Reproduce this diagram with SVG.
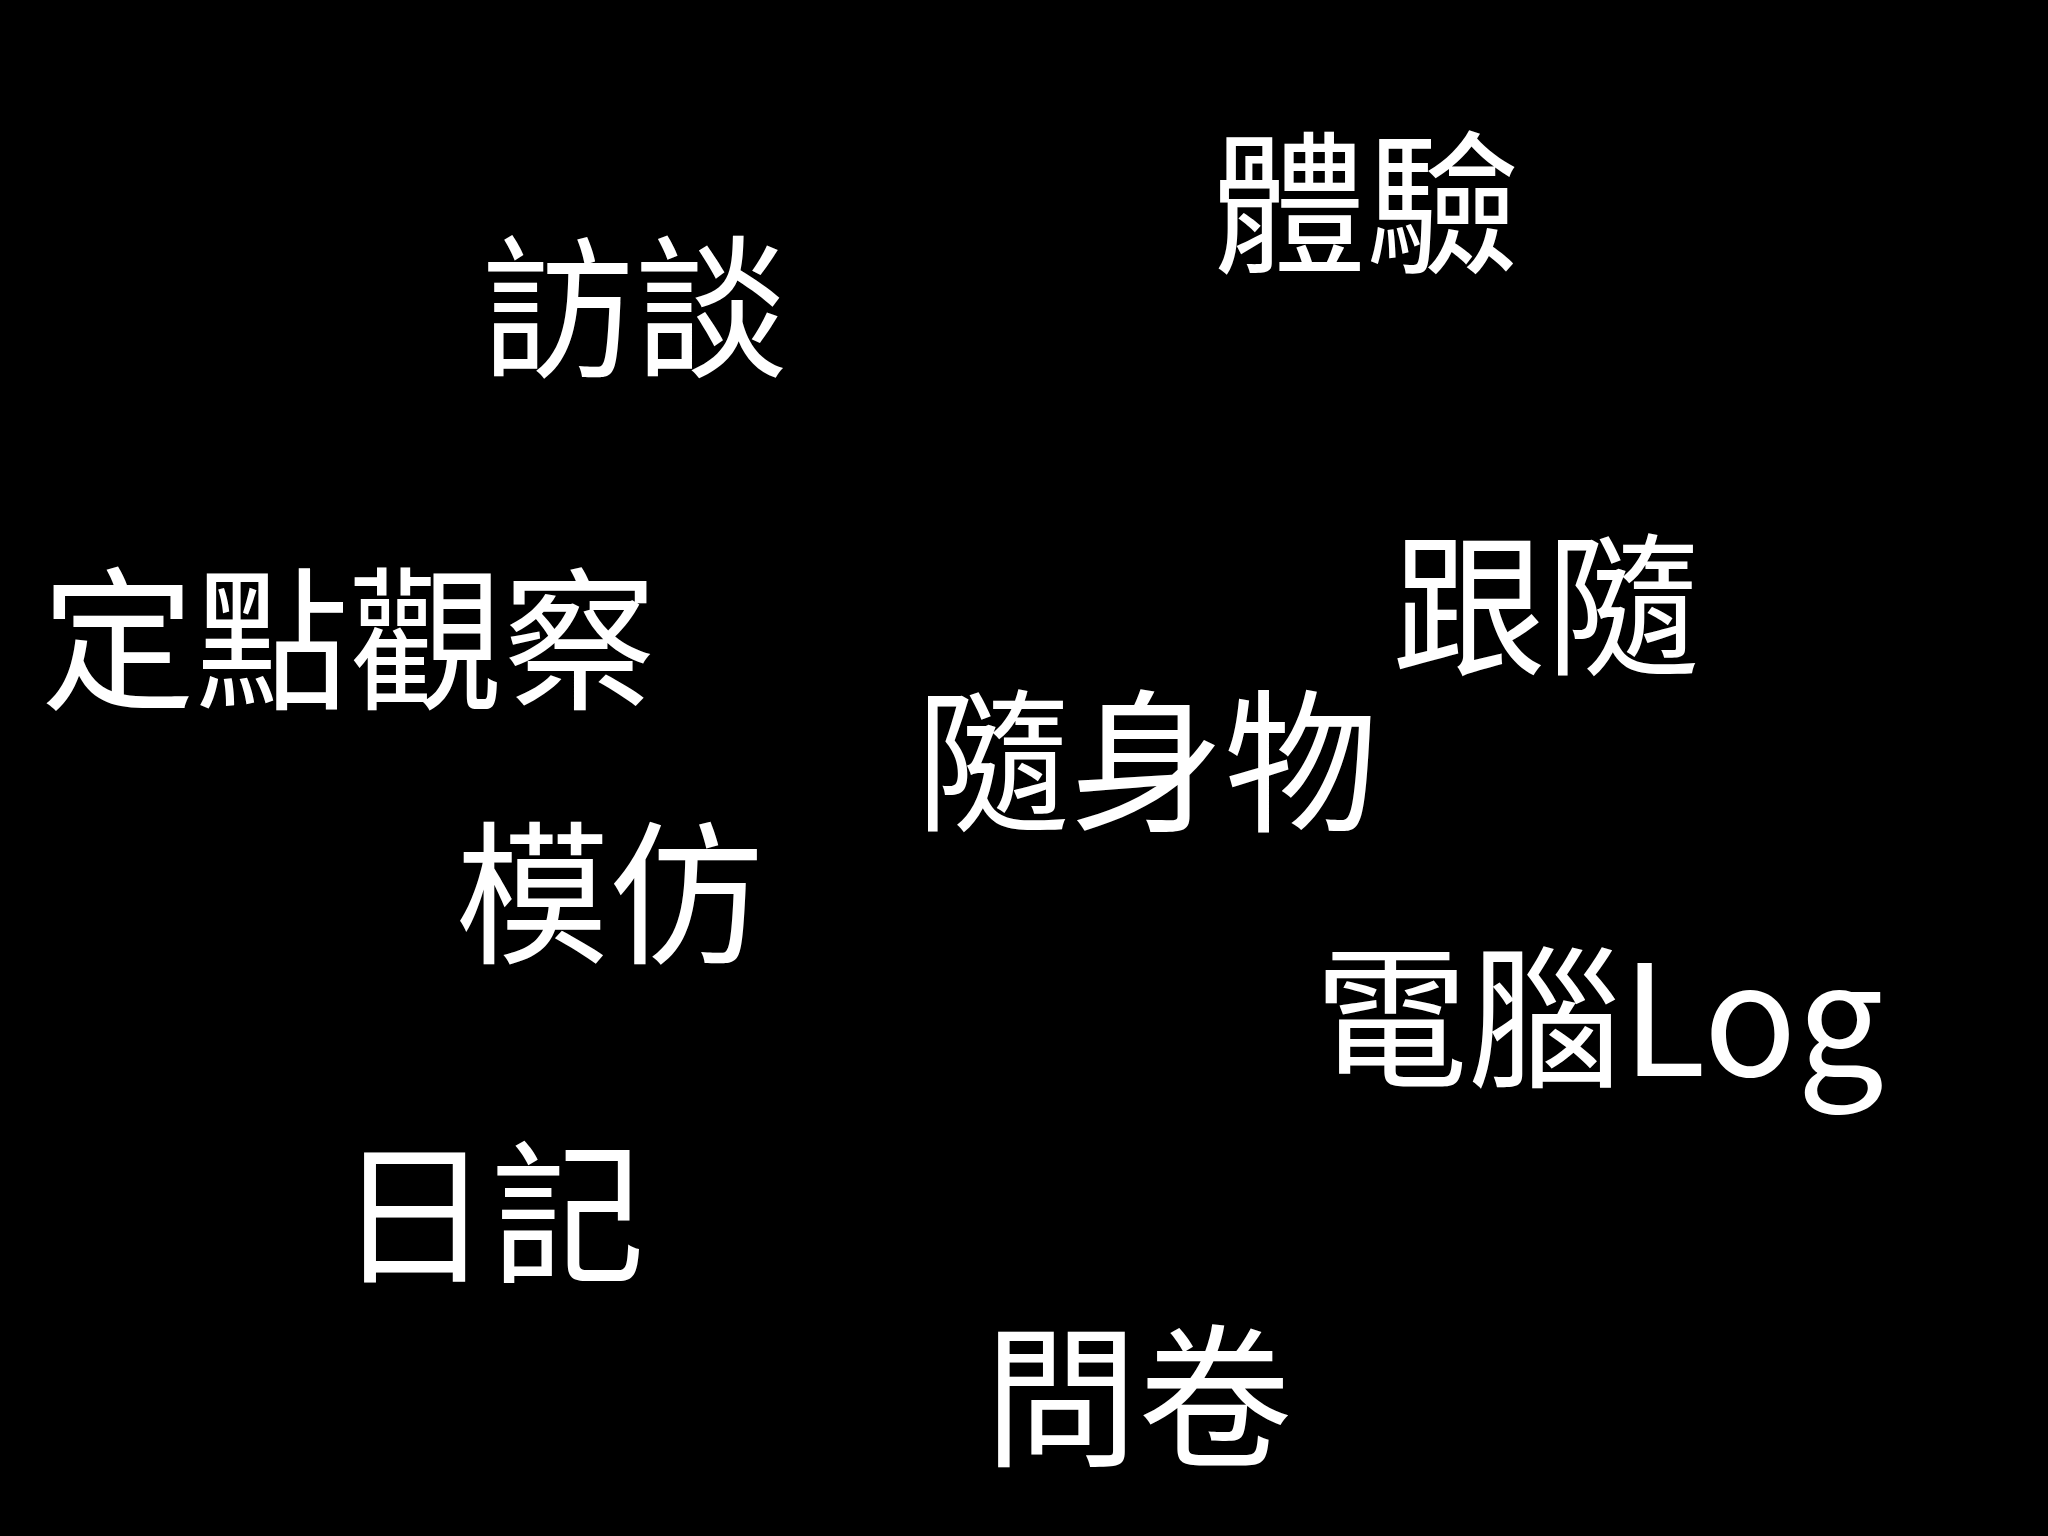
<svg xmlns="http://www.w3.org/2000/svg" width="2048" height="1536" viewBox="0 0 2048 1536">
<style>text{fill:#fff;font-family:"Noto Sans CJK TC","Noto Sans CJK SC",sans-serif;font-size:154px}</style>
<rect width="2048" height="1536" fill="#000"/>
<g id="n1"><text x="1212" y="262">體驗</text></g>
<g id="n2"><text x="481" y="366">訪談</text></g>
<g id="n3"><text x="41" y="698">定點觀察</text></g>
<g id="n4"><text x="1392" y="664">跟隨</text></g>
<g id="n5"><text x="916" y="820">隨身物</text></g>
<g id="n6"><text x="455" y="952">模仿</text></g>
<g id="n7"><text x="1314" y="1076">電腦Log</text></g>
<g id="n8"><text x="337" y="1272">日記</text></g>
<g id="n9"><text x="984" y="1455">問卷</text></g>
<g id="connectors"></g>
</svg>
